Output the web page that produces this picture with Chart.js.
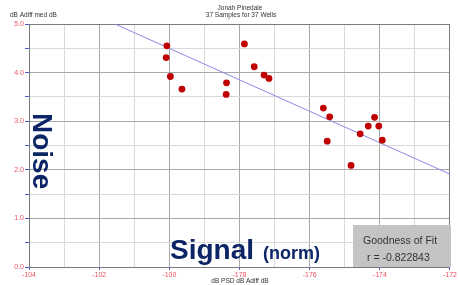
<!DOCTYPE html>
<html>
<head>
<meta charset="utf-8">
<script src="https://cdn.jsdelivr.net/npm/chart.js@4.4.1/dist/chart.umd.min.js"></script>
<style>
html,body{margin:0;padding:0;background:#fff;}
#wrap{width:458px;height:285px;position:relative;}
</style>
</head>
<body>
<div id="wrap"><canvas id="c" width="458" height="285"></canvas></div>
<script>
// Sample values (signal dB, noise dB)
const signalValues = [-100.07,-100.09,-99.97,-99.64,-98.37,-98.38,-97.86,-97.58,-97.30,-97.16,-95.61,-95.43,-95.50,-94.82,-94.56,-94.33,-94.15,-94.03,-93.93];
const noiseValues  = [4.55,4.31,3.92,3.66,3.79,3.55,4.59,4.12,3.95,3.88,3.27,3.09,2.59,2.09,2.74,2.90,3.08,2.90,2.61];
// Regression line end points
const fitX = [-101.55, -92];
const fitY = [5.0, 1.91];
// Tick labels
const xTickValues = [-104,-102,-100,-98,-96,-94,-92];
const xTickLabels = ["-104","-102","-100","-178","-176","-174","-172"];
const yTickValues = [0,1,2,3,4,5];
const yTickLabels = ["0.0","1.0","2.0","3.0","4.0","5.0"];
const titleLines = ["Jonah Pinedale","37 Samples for 37 Wells"];
const yTitle = "dB Adiff med dB";
const xTitle = "dB PSD dB Adiff dB";
const fitText = ["Goodness of Fit","r = -0.822843"];

const pts = signalValues.map((x,i)=>({x:x,y:noiseValues[i]}));
const fitPts = fitX.map((x,i)=>({x:x,y:fitY[i]}));

const isMajorX = v => xTickValues.some(t=>Math.abs(t-v)<1e-6);
const isMajorY = v => yTickValues.some(t=>Math.abs(t-v)<1e-6);

const overlay = {
  id:'overlay',
  beforeDatasetsDraw(chart){
    const {ctx, chartArea:a} = chart;
    ctx.save();
    ctx.strokeStyle = '#7a7a7a';
    ctx.lineWidth = 1;
    ctx.strokeRect(a.left+0.5, a.top+0.5, a.right-a.left-1, a.bottom-a.top);
    ctx.restore();
  },
  afterDraw(chart){
    const {ctx, chartArea:a} = chart;
    ctx.save();
    // titles
    ctx.fillStyle = '#333';
    ctx.textAlign = 'center';
    ctx.textBaseline = 'alphabetic';
    ctx.font = '6.5px "Liberation Sans", Arial, sans-serif';
    ctx.fillText(titleLines[0], 240, 10);
    ctx.fillText(titleLines[1], 241, 17);
    ctx.textAlign = 'left';
    ctx.fillText(yTitle, 10, 17);
    ctx.textAlign = 'center';
    ctx.fillText(xTitle, 240, 283);
    // Noise
    ctx.fillStyle = '#0b2566';
    ctx.font = 'bold 28px "Liberation Sans", Arial, sans-serif';
    ctx.save();
    ctx.translate(33, 113);
    ctx.rotate(Math.PI/2);
    ctx.textAlign = 'left';
    ctx.fillText('Noise', 0, 0);
    ctx.restore();
    // Signal (norm)
    ctx.textAlign = 'left';
    ctx.fillText('Signal', 170, 259);
    ctx.font = 'bold 18px "Liberation Sans", Arial, sans-serif';
    ctx.fillText('(norm)', 263, 259);
    // goodness box
    ctx.fillStyle = '#c4c4c4';
    ctx.fillRect(353, 225, 98, a.bottom-225);
    ctx.fillStyle = '#333';
    ctx.font = '10.5px "Liberation Sans", Arial, sans-serif';
    ctx.textAlign = 'left';
    ctx.fillText(fitText[0], 363, 244);
    ctx.fillText(fitText[1], 367, 261);
    ctx.restore();
  }
};

new Chart(document.getElementById('c'), {
  type:'scatter',
  data:{datasets:[
    {type:'line', data:fitPts, borderColor:'#8a8ae6', borderWidth:1, pointRadius:0, fill:false, order:2},
    {data:pts, backgroundColor:'#c00000', borderColor:'#b00000', borderWidth:0, pointRadius:3.4, order:1}
  ]},
  options:{
    responsive:false, animation:false,
    layout:{padding:{top:24,right:6,left:0,bottom:0}},
    plugins:{legend:{display:false}, tooltip:{enabled:false}, title:{display:false}},
    scales:{
      x:{type:'linear', min:-104, max:-92,
        afterFit(s){ s.height = 18; },
        ticks:{stepSize:1, autoSkip:false, maxRotation:0, padding:1, color:'#e8505f',
          font:{size:7, family:'"Liberation Sans", Arial, sans-serif'},
          callback:(v)=>{ const i = xTickValues.findIndex(t=>Math.abs(t-v)<1e-6); return i>=0 ? xTickLabels[i] : ''; }},
        grid:{color:(c)=> isMajorX(c.tick.value) ? '#a9a9a9' : '#d9d9d9', lineWidth:1, tickLength:3,
          tickColor:(c)=> isMajorX(c.tick.value) ? '#4a5ad0' : 'rgba(0,0,0,0)'},
        border:{color:'#7a7a7a'}
      },
      y:{type:'linear', min:0, max:5,
        afterFit(s){ s.width = 29; },
        ticks:{stepSize:0.5, autoSkip:false, padding:1, color:'#e8505f',
          font:{size:7, family:'"Liberation Sans", Arial, sans-serif'},
          callback:(v)=>{ const i = yTickValues.findIndex(t=>Math.abs(t-v)<1e-6); return i>=0 ? yTickLabels[i] : ''; }},
        grid:{color:(c)=> isMajorY(c.tick.value) ? '#a9a9a9' : '#d9d9d9', lineWidth:1, tickLength:4,
          tickColor:'#4a5ad0'},
        border:{color:'#7a7a7a'}
      }
    }
  },
  plugins:[overlay]
});
</script>
</body>
</html>
